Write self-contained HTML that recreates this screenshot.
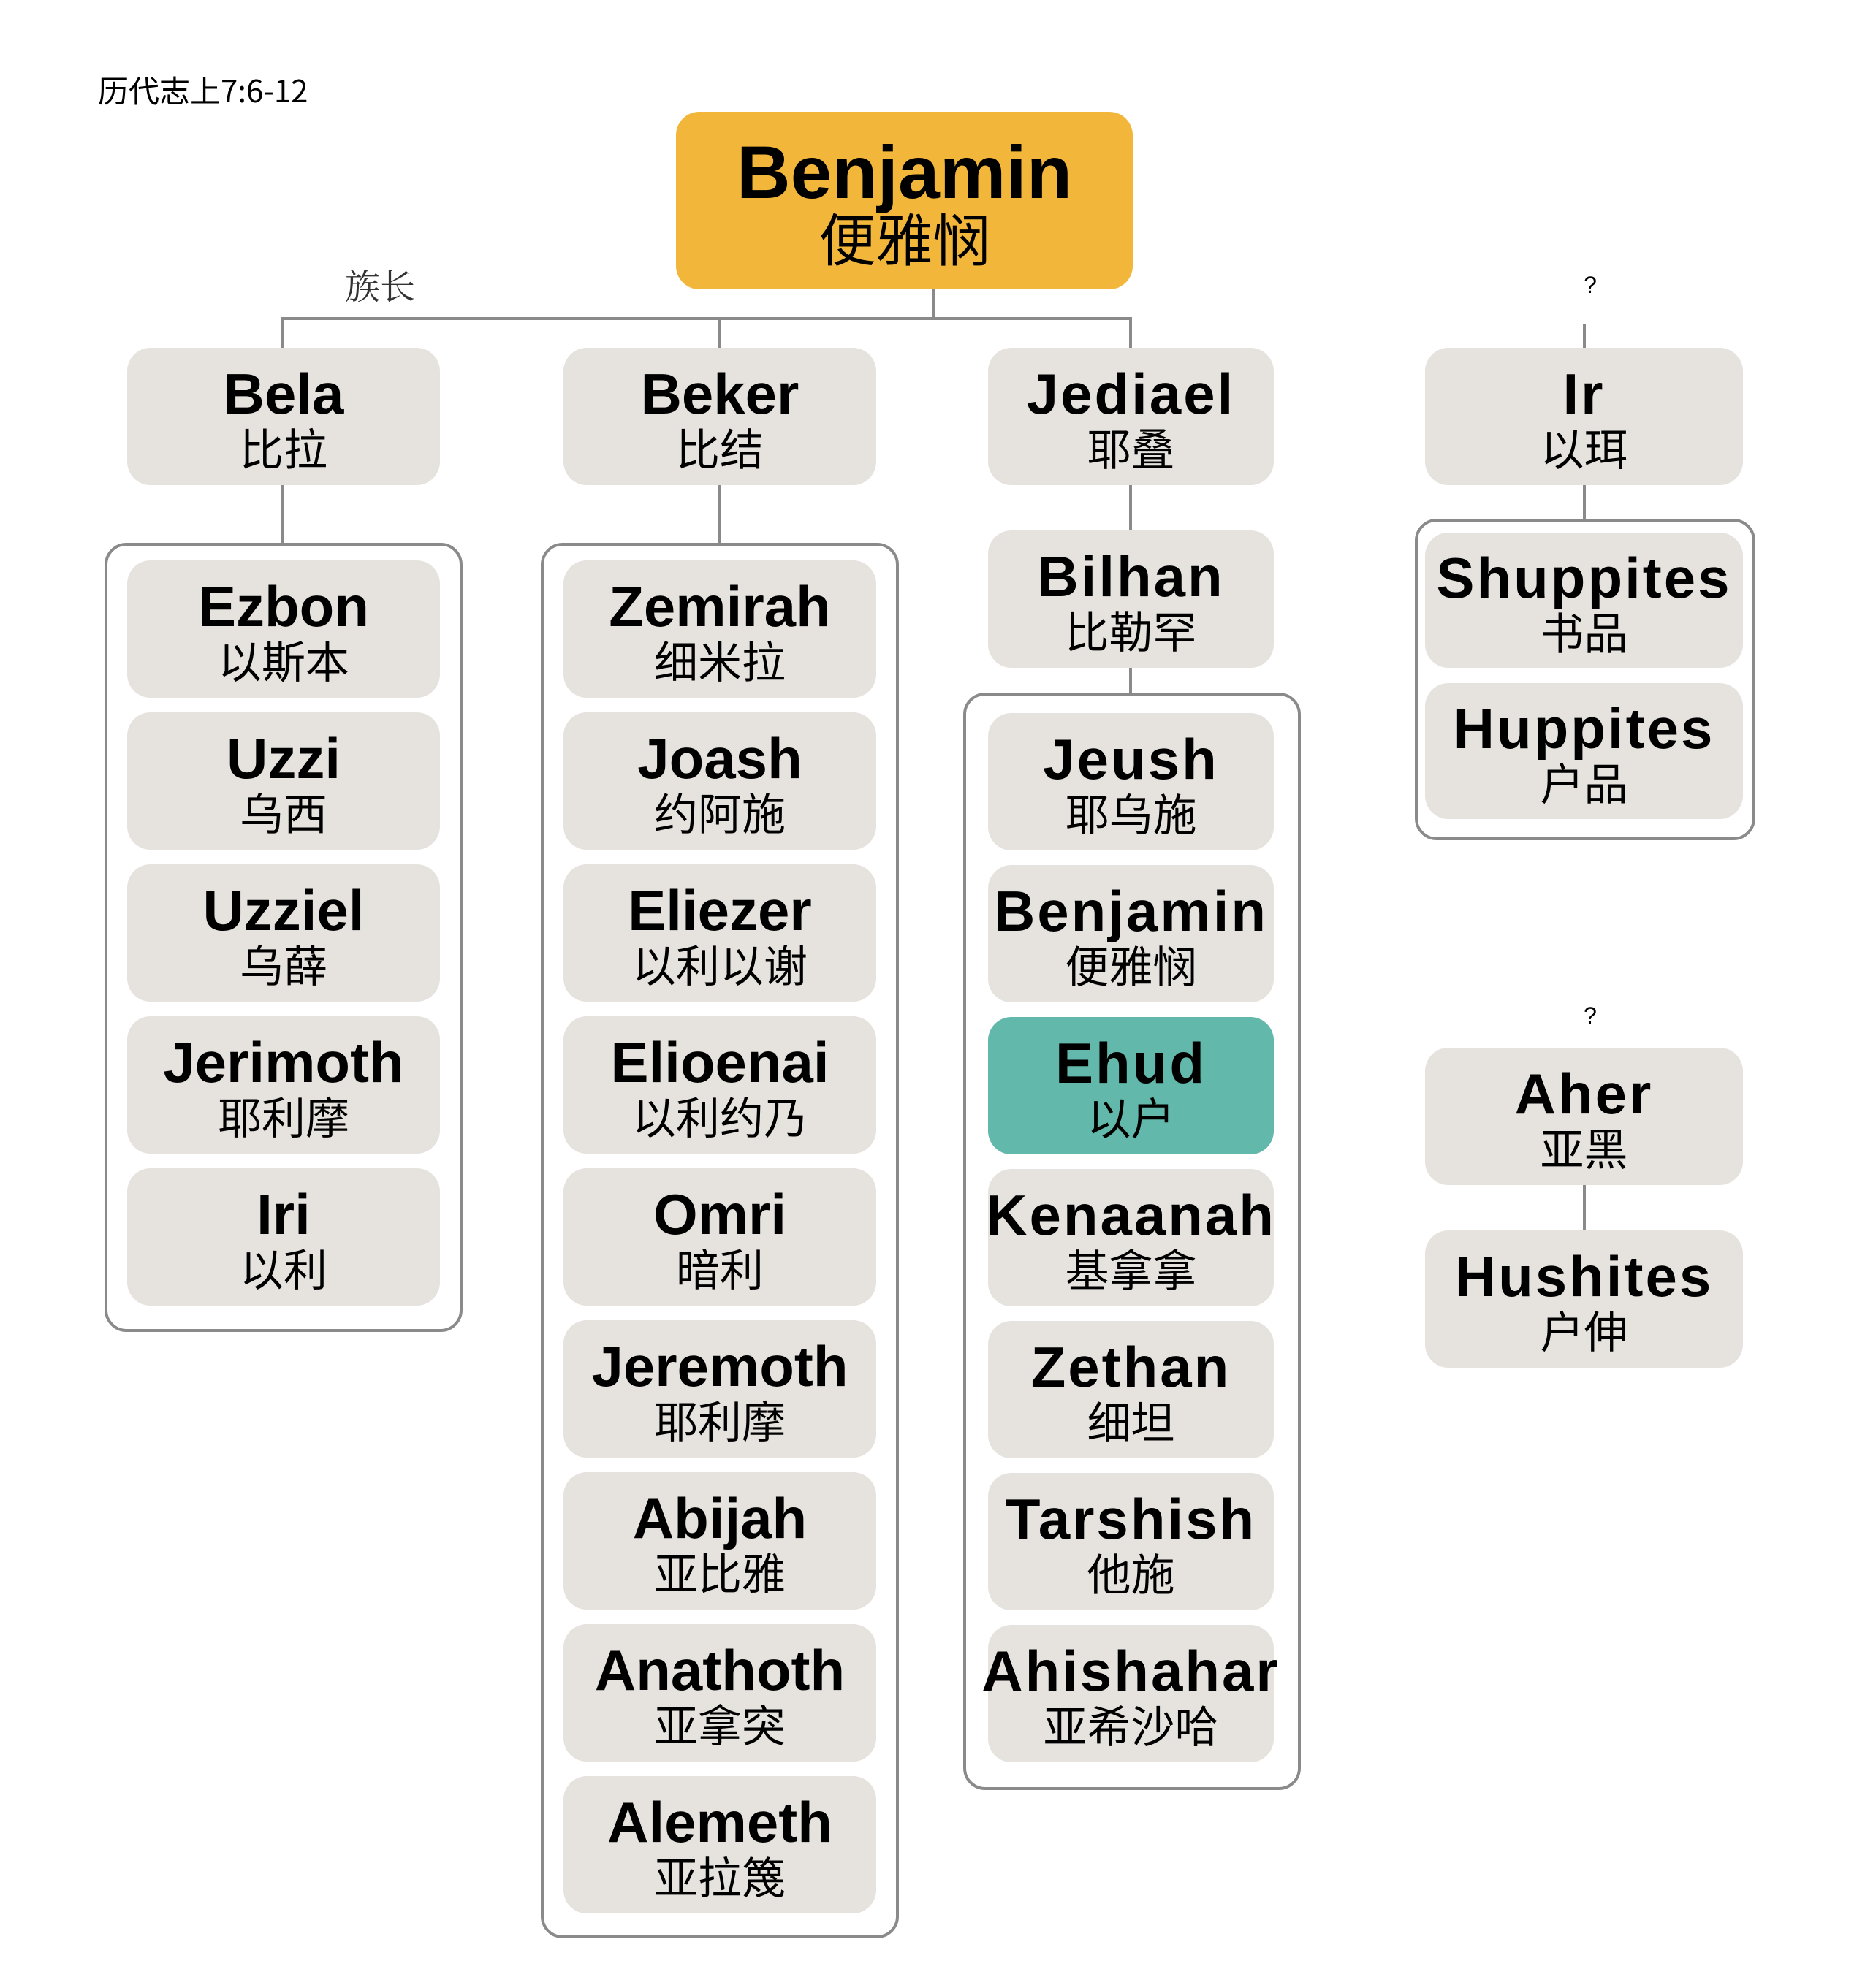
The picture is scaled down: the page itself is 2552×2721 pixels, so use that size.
<!DOCTYPE html>
<html><head><meta charset="utf-8"><style>
body{margin:0;width:2552px;height:2721px;background:#fff;position:relative;overflow:hidden;font-family:"Liberation Sans","Noto Sans CJK SC",sans-serif}
.b{position:absolute;background:#E6E3DF;border-radius:32px;display:flex;flex-direction:column;align-items:center;justify-content:center;color:#000;white-space:nowrap}
.b .n{font-weight:bold;font-size:78px;line-height:80px;margin-top:4px}
.b .c{font-size:60px;line-height:66px;font-family:"Noto Sans CJK SC",sans-serif}
.w .n{letter-spacing:3px}
.c1{left:174px;width:428px;height:188px}
.c2{left:771px;width:428px;height:188px}
.c3{left:1352px;width:391px;height:188px}
.c4{left:1950px;width:435px;height:188px}
.ct{position:absolute;border:4px solid #8a8a8a;border-radius:30px;box-sizing:border-box}
.l{position:absolute;background:#8a8a8a}
</style></head><body>
<div style="position:absolute;left:134px;top:92px;font-size:42px;font-family:'Noto Sans CJK SC',sans-serif">历代志上7:6-12</div>
<div style="position:absolute;left:472px;top:354px;font-size:48px;font-family:'Noto Serif CJK SC',serif;color:#333">族长</div>

<div class="l" style="left:385px;top:434px;width:1164px;height:4px"></div>
<div class="l" style="left:1276px;top:396px;width:4px;height:40px"></div>
<div class="l" style="left:385px;top:434px;width:4px;height:42px"></div>
<div class="l" style="left:983px;top:434px;width:4px;height:42px"></div>
<div class="l" style="left:1545px;top:434px;width:4px;height:42px"></div>
<div class="l" style="left:385px;top:663px;width:4px;height:82px"></div>
<div class="l" style="left:983px;top:663px;width:4px;height:82px"></div>
<div class="l" style="left:1545px;top:663px;width:4px;height:65px"></div>
<div class="l" style="left:1545px;top:912px;width:4px;height:38px"></div>
<div class="l" style="left:2166px;top:443px;width:4px;height:33px"></div>
<div class="l" style="left:2166px;top:663px;width:4px;height:49px"></div>
<div class="l" style="left:2166px;top:1621px;width:4px;height:63px"></div>

<div class="b" style="left:925px;top:153px;width:625px;height:243px;background:#F2B73A">
<div style="font-weight:bold;font-size:102px;line-height:96px;margin-top:2px">Benjamin</div>
<div style="font-size:78px;line-height:80px;font-family:'Noto Sans CJK SC',sans-serif">便雅悯</div></div>

<div class="ct" style="left:143px;top:743px;width:490px;height:1080px"></div>
<div class="ct" style="left:740px;top:743px;width:490px;height:1910px"></div>
<div class="ct" style="left:1318px;top:948px;width:462px;height:1502px"></div>
<div class="ct" style="left:1936px;top:710px;width:466px;height:440px"></div>

<div class="b c1" style="top:476px"><div class="n">Bela</div><div class="c">比拉</div></div>
<div class="b c1" style="top:767px"><div class="n">Ezbon</div><div class="c">以斯本</div></div>
<div class="b c1" style="top:975px"><div class="n">Uzzi</div><div class="c">乌西</div></div>
<div class="b c1" style="top:1183px"><div class="n">Uzziel</div><div class="c">乌薛</div></div>
<div class="b c1" style="top:1391px"><div class="n">Jerimoth</div><div class="c">耶利摩</div></div>
<div class="b c1" style="top:1599px"><div class="n">Iri</div><div class="c">以利</div></div>

<div class="b c2" style="top:476px"><div class="n">Beker</div><div class="c">比结</div></div>
<div class="b c2" style="top:767px"><div class="n">Zemirah</div><div class="c">细米拉</div></div>
<div class="b c2" style="top:975px"><div class="n">Joash</div><div class="c">约阿施</div></div>
<div class="b c2" style="top:1183px"><div class="n">Eliezer</div><div class="c">以利以谢</div></div>
<div class="b c2" style="top:1391px"><div class="n">Elioenai</div><div class="c">以利约乃</div></div>
<div class="b c2" style="top:1599px"><div class="n">Omri</div><div class="c">暗利</div></div>
<div class="b c2" style="top:1807px"><div class="n">Jeremoth</div><div class="c">耶利摩</div></div>
<div class="b c2" style="top:2015px"><div class="n">Abijah</div><div class="c">亚比雅</div></div>
<div class="b c2" style="top:2223px"><div class="n">Anathoth</div><div class="c">亚拿突</div></div>
<div class="b c2" style="top:2431px"><div class="n">Alemeth</div><div class="c">亚拉篾</div></div>

<div class="b c3 w" style="top:476px"><div class="n">Jediael</div><div class="c">耶叠</div></div>
<div class="b c3 w" style="top:726px"><div class="n">Bilhan</div><div class="c">比勒罕</div></div>
<div class="b c3 w" style="top:976px"><div class="n">Jeush</div><div class="c">耶乌施</div></div>
<div class="b c3 w" style="top:1184px"><div class="n">Benjamin</div><div class="c">便雅悯</div></div>
<div class="b c3 w" style="top:1392px;background:#62B8AA"><div class="n">Ehud</div><div class="c">以户</div></div>
<div class="b c3 w" style="top:1600px"><div class="n">Kenaanah</div><div class="c">基拿拿</div></div>
<div class="b c3 w" style="top:1808px"><div class="n">Zethan</div><div class="c">细坦</div></div>
<div class="b c3 w" style="top:2016px"><div class="n">Tarshish</div><div class="c">他施</div></div>
<div class="b c3 w" style="top:2224px"><div class="n">Ahishahar</div><div class="c">亚希沙哈</div></div>

<div style="position:absolute;left:2158px;top:372px;width:36px;text-align:center;font-size:32px">?</div>
<div class="b c4 w" style="top:476px"><div class="n">Ir</div><div class="c">以珥</div></div>
<div class="b c4 w" style="top:729px;height:185px"><div class="n">Shuppites</div><div class="c">书品</div></div>
<div class="b c4 w" style="top:935px;height:186px"><div class="n">Huppites</div><div class="c">户品</div></div>
<div style="position:absolute;left:2158px;top:1372px;width:36px;text-align:center;font-size:32px">?</div>
<div class="b c4 w" style="top:1434px"><div class="n">Aher</div><div class="c">亚黑</div></div>
<div class="b c4 w" style="top:1684px"><div class="n">Hushites</div><div class="c">户伸</div></div>
</body></html>
